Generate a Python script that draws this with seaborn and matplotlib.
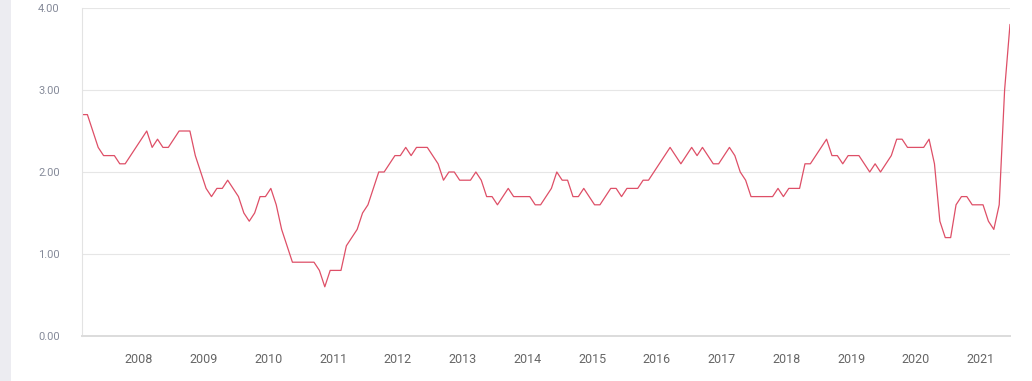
import numpy as np
import pandas as pd
import matplotlib
matplotlib.use("Agg")
import matplotlib.pyplot as plt
import seaborn as sns
from matplotlib.patches import Rectangle

# ---- data (monthly, Jan 2007 .. May 2021) ----
months = pd.period_range("2007-01", "2021-05", freq="M")
v2007 = [2.7, 2.7, 2.5, 2.3, 2.2, 2.2, 2.2, 2.1, 2.1, 2.2, 2.3, 2.4]
v2008 = [2.5, 2.3, 2.4, 2.3, 2.3, 2.4, 2.5, 2.5, 2.5, 2.2, 2.0, 1.8]
v2009 = [1.7, 1.8, 1.8, 1.9, 1.8, 1.7, 1.5, 1.4, 1.5, 1.7, 1.7, 1.8]
v2010 = [1.6, 1.3, 1.1, 0.9, 0.9, 0.9, 0.9, 0.9, 0.8, 0.6, 0.8, 0.8]
v2011 = [0.8, 1.1, 1.2, 1.3, 1.5, 1.6, 1.8, 2.0, 2.0, 2.1, 2.2, 2.2]
v2012 = [2.3, 2.2, 2.3, 2.3, 2.3, 2.2, 2.1, 1.9, 2.0, 2.0, 1.9, 1.9]
v2013 = [1.9, 2.0, 1.9, 1.7, 1.7, 1.6, 1.7, 1.8, 1.7, 1.7, 1.7, 1.7]
v2014 = [1.6, 1.6, 1.7, 1.8, 2.0, 1.9, 1.9, 1.7, 1.7, 1.8, 1.7, 1.6]
v2015 = [1.6, 1.7, 1.8, 1.8, 1.7, 1.8, 1.8, 1.8, 1.9, 1.9, 2.0, 2.1]
v2016 = [2.2, 2.3, 2.2, 2.1, 2.2, 2.3, 2.2, 2.3, 2.2, 2.1, 2.1, 2.2]
v2017 = [2.3, 2.2, 2.0, 1.9, 1.7, 1.7, 1.7, 1.7, 1.7, 1.8, 1.7, 1.8]
v2018 = [1.8, 1.8, 2.1, 2.1, 2.2, 2.3, 2.4, 2.2, 2.2, 2.1, 2.2, 2.2]
v2019 = [2.2, 2.1, 2.0, 2.1, 2.0, 2.1, 2.2, 2.4, 2.4, 2.3, 2.3, 2.3]
v2020 = [2.3, 2.4, 2.1, 1.4, 1.2, 1.2, 1.6, 1.7, 1.7, 1.6, 1.6, 1.6]
v2021 = [1.4, 1.3, 1.6, 3.0, 3.8]
values = (v2007 + v2008 + v2009 + v2010 + v2011 + v2012 + v2013 + v2014
          + v2015 + v2016 + v2017 + v2018 + v2019 + v2020 + v2021)
year_ticks = list(range(2008, 2022))
y_ticks = [0, 1, 2, 3, 4]

# ---- build frame ----
df = pd.DataFrame({
    "t": months.year + (months.month - 1) / 12 + 0.12,
    "value": values,
})

sns.set_style("white")
plt.rcParams["font.family"] = ["Roboto", "DejaVu Sans"]

W, H = 1032, 381
fig = plt.figure(figsize=(W / 100, H / 100), dpi=100)
fig.patch.set_facecolor("white")
fig.patches.append(Rectangle((0, 0), 11 / W, 1, transform=fig.transFigure,
                             facecolor="#ececf1", edgecolor="none", zorder=0))

ax = fig.add_axes([82 / W, 1 - 336 / H, (1010 - 82) / W, (336 - 8) / H])
ax.set_facecolor("white")

sns.lineplot(data=df, x="t", y="value", ax=ax, color="#de4f67", linewidth=0.9)

ax.set_xlim(df["t"].iloc[0], df["t"].iloc[-1])
ax.set_ylim(0, 4)
ax.set_xticks(year_ticks)
ax.set_xticklabels([str(y) for y in year_ticks])
ax.set_yticks(y_ticks)
ax.set_yticklabels([f"{v:.2f}" for v in y_ticks])
ax.set_xlabel("")
ax.set_ylabel("")

ax.grid(axis="y", color="#e6e6e6", linewidth=0.8)
ax.grid(axis="x", visible=False)
ax.set_axisbelow(True)

for s in ["top", "right"]:
    ax.spines[s].set_visible(False)
ax.spines["left"].set_color("#e3e3e3")
ax.spines["left"].set_linewidth(0.8)
ax.spines["bottom"].set_color("#dcdcdc")
ax.spines["bottom"].set_linewidth(1.4)

ax.tick_params(axis="x", length=5, width=0.8, color="#9a9a9a", direction="out",
               labelsize=9, labelcolor="#666666", pad=7)
ax.tick_params(axis="y", length=0, labelsize=8, labelcolor="#858a99", pad=16)

fig.savefig("out.png", dpi=100, facecolor="white")
